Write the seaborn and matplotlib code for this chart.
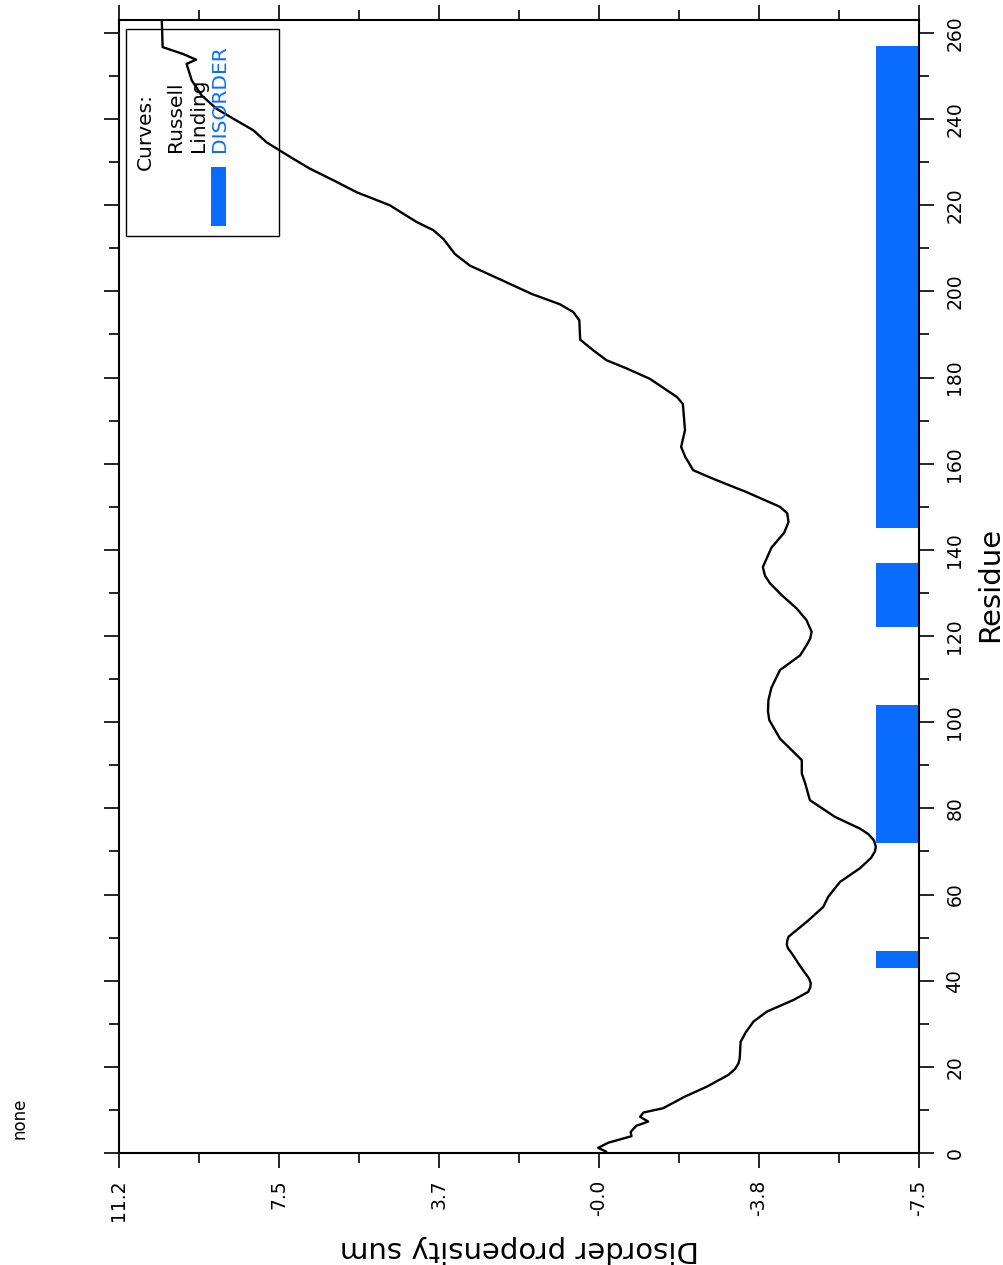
import matplotlib
matplotlib.use('Agg')
import matplotlib.pyplot as plt
import seaborn as sns
import pandas as pd
import numpy as np
from matplotlib.patches import Rectangle
from matplotlib.ticker import FixedLocator, MultipleLocator

# ---- data ----
residue = [0.3, 1.2, 2.4, 3.9, 4.9, 6.3, 7.3, 8.4, 9.4, 10.4, 13.1, 15.4, 18.1, 19.5,
           20.8, 22.0, 23.9, 25.8, 28.0, 30.5, 32.8, 35.5, 37.4, 38.5, 39.4, 40.5,
           42.0, 44.0, 46.0, 47.5, 48.3, 49.3, 50.2, 53.7, 57.1, 59.5, 62.9, 66.1,
           68.5, 70.0, 71.1, 72.5, 74.0, 75.3, 78.0, 81.9, 85.8, 88.1, 91.2, 96.2,
           100.5, 102.5, 105.1, 108.0, 112.1, 115.5, 118.0, 119.5, 121.0, 123.7,
           126.4, 129.5, 132.2, 134.0, 136.0, 140.5, 144.0, 146.5, 148.5, 150.0,
           153.4, 156.5, 158.5, 160.4, 161.5, 163.9, 167.8, 173.9, 175.5, 179.7,
           182.1, 184.0, 186.3, 188.8, 193.3, 195.2, 197.0, 199.4, 202.6, 206.0,
           208.7, 212.2, 214.2, 216.1, 218.0, 220.0, 223.0, 225.8, 228.5, 230.8,
           234.6, 237.4, 240.1, 242.4, 245.5, 249.0, 252.8, 253.8, 255.1, 256.7,
           263.0]
propensity = [-0.19, 0.00, -0.24, -0.78, -0.76, -0.89, -1.17, -0.98, -1.06, -1.52,
              -2.03, -2.54, -3.04, -3.20, -3.28, -3.31, -3.32, -3.33, -3.45, -3.63,
              -3.94, -4.56, -4.91, -4.96, -4.97, -4.93, -4.82, -4.68, -4.55, -4.44,
              -4.41, -4.42, -4.45, -4.88, -5.26, -5.38, -5.65, -6.12, -6.38, -6.47,
              -6.49, -6.45, -6.32, -6.12, -5.54, -4.95, -4.84, -4.76, -4.76, -4.25,
              -4.00, -3.97, -3.98, -4.05, -4.25, -4.72, -4.88, -4.96, -4.99, -4.87,
              -4.64, -4.29, -4.02, -3.90, -3.85, -4.05, -4.35, -4.45, -4.42, -4.25,
              -3.47, -2.69, -2.22, -2.11, -2.04, -1.94, -2.03, -1.98, -1.84, -1.21,
              -0.67, -0.20, 0.11, 0.42, 0.44, 0.58, 0.89, 1.55, 2.25, 3.00, 3.35,
              3.62, 3.85, 4.24, 4.55, 4.87, 5.64, 6.19, 6.74, 7.13, 7.75, 8.06, 8.53,
              8.92, 9.27, 9.50, 9.62, 9.40, 9.70, 10.18, 10.20]
disorder_start = [43, 72, 122, 145]
disorder_end = [47, 104, 137, 257]
prop_ticks = [-7.5, -3.76, -0.02, 3.72, 7.46, 11.2]
prop_tick_labels = ['-7.5', '-3.8', '-0.0', '3.7', '7.5', '11.2']
res_ticks = list(range(0, 261, 20))
res_tick_labels = [str(t) for t in res_ticks]
legend_lines = ['Curves:', 'Russell', 'Linding', 'DISORDER']

BLUE = '#0a6cff'
W, H = 1004, 1265

sns.set_style('ticks')
plt.rcParams['font.family'] = ['DejaVu Sans']
plt.rcParams['text.color'] = 'black'
plt.rcParams['axes.labelcolor'] = 'black'
plt.rcParams['xtick.color'] = 'black'
plt.rcParams['ytick.color'] = 'black'

fig = plt.figure(figsize=(W / 100, H / 100), dpi=100)
ax = fig.add_axes([119 / W, (H - 1153) / H, 800 / W, 1133 / H])

df = pd.DataFrame({'residue': residue, 'propensity': propensity})
sns.lineplot(data=df, x='propensity', y='residue', orient='y', estimator=None,
             sort=True, color='black', linewidth=1.7, ax=ax, zorder=3,
             solid_joinstyle='round', solid_capstyle='round')

starts = np.array(disorder_start)
ends = np.array(disorder_end)
ax.barh(y=starts, width=1.0, height=ends - starts, left=-7.5, align='edge',
        color=BLUE, linewidth=0, zorder=2)

ax.set_xlim(11.2, -7.5)
ax.set_ylim(0, 263)

ax.set_xticks(prop_ticks)
ax.set_xticklabels(prop_tick_labels, rotation=90, fontsize=13.5)
mids = [(a + b) / 2 for a, b in zip(prop_ticks[:-1], prop_ticks[1:])]
ax.xaxis.set_minor_locator(FixedLocator(mids))
ax.set_yticks(res_ticks)
ax.set_yticklabels(res_tick_labels, rotation=90, fontsize=13.5, va='center')
ax.yaxis.set_minor_locator(MultipleLocator(10))

ax.tick_params(which='both', direction='out', top=True, bottom=True, left=True,
               right=True, labelleft=False, labelright=True, colors='black',
               width=1.2)
ax.tick_params(which='major', length=11, pad=8)
ax.tick_params(which='minor', length=7)
for s in ax.spines.values():
    s.set_linewidth(1.5)
    s.set_color('black')

ax.set_xlabel('Disorder propensity sum', rotation=180, fontsize=21)
ax.xaxis.set_label_coords(0.5, -0.0725)
ax.yaxis.set_label_position('right')
ax.set_ylabel('Residue', rotation=90, fontsize=21)
ax.yaxis.set_label_coords(1.0715, 0.502)


def fx(px):
    return px / W


def fy(py):
    return (H - py) / H


# legend box
fig.add_artist(Rectangle((fx(126), fy(236)), fx(279) - fx(126), fy(29) - fy(236),
                         transform=fig.transFigure, fill=False, edgecolor='black',
                         linewidth=1.0, zorder=5))
legend_pos = [(150.7, 170), (180.7, 152), (204, 152), (225, 152)]
legend_col = ['black', 'black', 'black', BLUE]
for txt, (bx, by), c in zip(legend_lines, legend_pos, legend_col):
    fig.text(fx(bx), fy(by), txt, rotation=90, rotation_mode='anchor', ha='left',
             va='baseline', fontsize=14.5, color=c)
fig.add_artist(Rectangle((fx(211), fy(226)), fx(226) - fx(211), fy(167) - fy(226),
                         transform=fig.transFigure, facecolor=BLUE, edgecolor='none'))

fig.text(fx(20), fy(1118), 'none', rotation=90, ha='center', va='center', fontsize=12)

fig.savefig('out.png', dpi=100, facecolor='white')
